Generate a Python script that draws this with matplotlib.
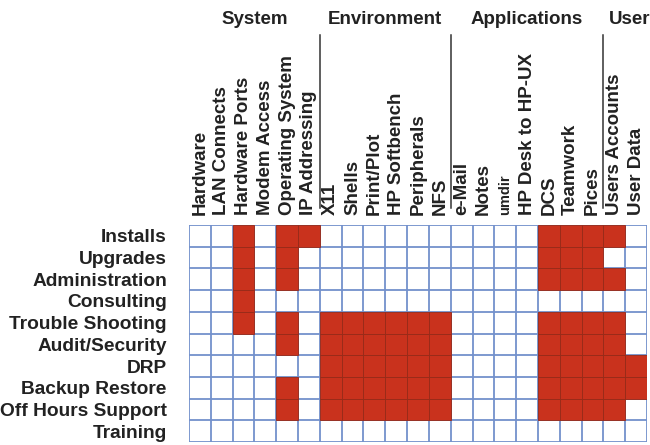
import numpy as np
import matplotlib
matplotlib.use("Agg")
import matplotlib.pyplot as plt
import matplotlib.transforms as mtransforms

# rows (tasks) and columns (areas)
tasks = ["Installs", "Upgrades", "Administration", "Consulting", "Trouble Shooting",
         "Audit/Security", "DRP", "Backup Restore", "Off Hours Support", "Training"]
areas = ["Hardware", "LAN Connects", "Hardware Ports", "Modem Access", "Operating System",
         "IP Addressing", "X11", "Shells", "Print/Plot", "HP Softbench", "Peripherals", "NFS",
         "e-Mail", "Notes", "umdir", "HP Desk to HP-UX", "DCS", "Teamwork", "Pices",
         "Users Accounts", "User Data"]

# column groups: (name, first column, last column + 1)
group_names = ["System", "Environment", "Applications", "User"]
group_start = [0, 6, 12, 19]
group_end = [6, 12, 19, 21]

# 1 = covered
coverage = [
    [0, 0, 1, 0, 1, 1, 0, 0, 0, 0, 0, 0, 0, 0, 0, 0, 1, 1, 1, 1, 0],
    [0, 0, 1, 0, 1, 0, 0, 0, 0, 0, 0, 0, 0, 0, 0, 0, 1, 1, 1, 0, 0],
    [0, 0, 1, 0, 1, 0, 0, 0, 0, 0, 0, 0, 0, 0, 0, 0, 1, 1, 1, 1, 0],
    [0, 0, 1, 0, 0, 0, 0, 0, 0, 0, 0, 0, 0, 0, 0, 0, 0, 0, 0, 0, 0],
    [0, 0, 1, 0, 1, 0, 1, 1, 1, 1, 1, 1, 0, 0, 0, 0, 1, 1, 1, 1, 0],
    [0, 0, 0, 0, 1, 0, 1, 1, 1, 1, 1, 1, 0, 0, 0, 0, 1, 1, 1, 1, 0],
    [0, 0, 0, 0, 0, 0, 1, 1, 1, 1, 1, 1, 0, 0, 0, 0, 1, 1, 1, 1, 1],
    [0, 0, 0, 0, 1, 0, 1, 1, 1, 1, 1, 1, 0, 0, 0, 0, 1, 1, 1, 1, 1],
    [0, 0, 0, 0, 1, 0, 1, 1, 1, 1, 1, 1, 0, 0, 0, 0, 1, 1, 1, 1, 0],
    [0, 0, 0, 0, 0, 0, 0, 0, 0, 0, 0, 0, 0, 0, 0, 0, 0, 0, 0, 0, 0],
]

plt.rcParams['font.family'] = ['Liberation Sans', 'DejaVu Sans']
plt.rcParams['font.weight'] = 'bold'

W, H = 650, 445
fig = plt.figure(figsize=(W / 100, H / 100), dpi=100, facecolor='white')
# grid area in pixels: x 189..647, y 225..442 (from top)
ax = fig.add_axes([189 / W, (H - 442) / H, 458 / W, 217 / H])

data = np.array(coverage)
nr, nc = data.shape

# blue grid
for i in range(nc + 1):
    ax.axvline(i, color='#7391cc', lw=1.3, zorder=1)
for j in range(nr + 1):
    ax.axhline(j, color='#7391cc', lw=1.3, zorder=1)

# filled cells
for r in range(nr):
    cols = np.nonzero(data[r])[0]
    ax.bar(cols, 1, bottom=r, width=1, align='edge', color='#c9321d',
           edgecolor='#962a18', linewidth=0.6, zorder=2)

ax.set_xlim(0, nc)
ax.set_ylim(nr, 0)

for s in ax.spines.values():
    s.set_visible(False)

ax.xaxis.tick_top()
ax.set_xticks(np.arange(nc) + 0.5)
ax.set_xticklabels(areas, rotation=90, fontsize=13.5, color='#222222')
for lbl in ax.get_xticklabels():
    if lbl.get_text() == "umdir":
        lbl.set_fontsize(10.5)
ax.set_yticks(np.arange(nr) + 0.5)
ax.set_yticklabels(tasks, fontsize=13.8, color='#222222')
ax.tick_params(length=0)
ax.tick_params(axis='x', pad=7)
ax.tick_params(axis='y', pad=16)

trans = mtransforms.blended_transform_factory(ax.transData, ax.transAxes)
for name, a, b in zip(group_names, group_start, group_end):
    ax.text((a + b) / 2 + (0.2 if a == 19 else 0), 1.948, name, transform=trans,
            ha='center', va='center', fontsize=13.5, color='#222222')
    if a > 0:
        ax.plot([a, a], [1.078, 1.876], transform=trans, color='#333333',
                lw=1.1, clip_on=False)

fig.savefig('out.png', dpi=100)
